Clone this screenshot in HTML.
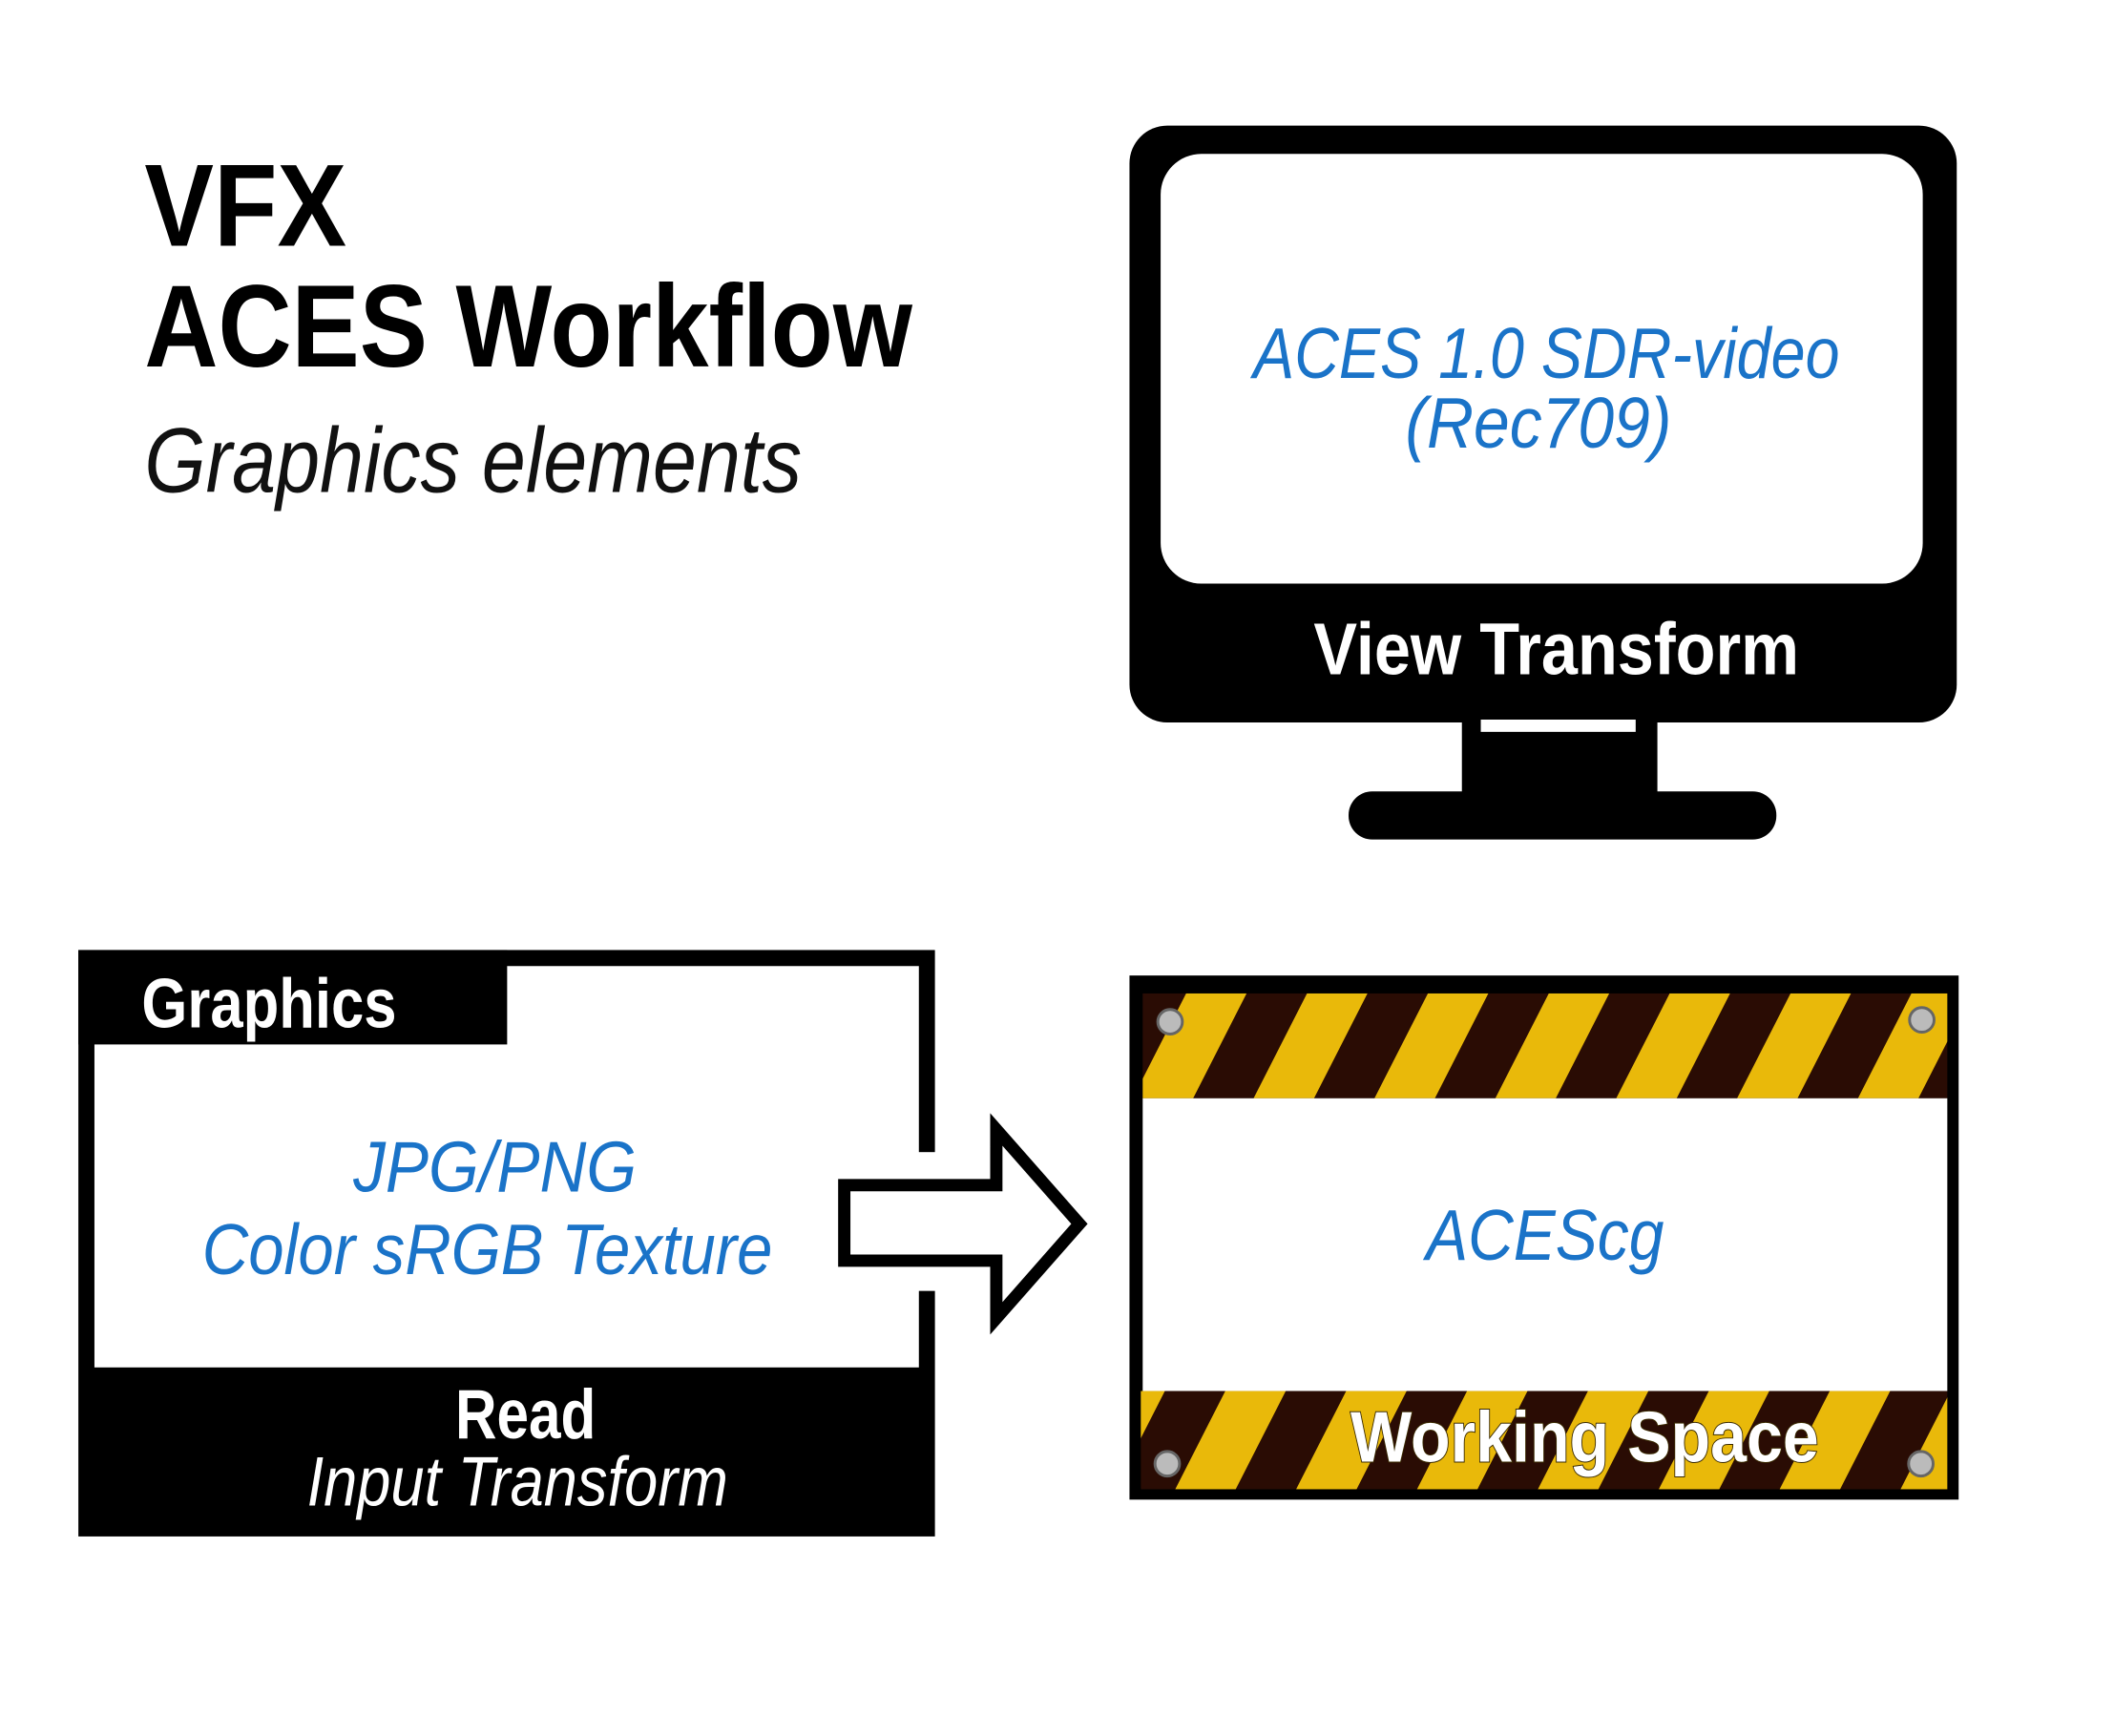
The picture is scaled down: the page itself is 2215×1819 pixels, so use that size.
<!DOCTYPE html>
<html><head><meta charset="utf-8"><style>html,body{margin:0;padding:0;background:#fff;width:2215px;height:1819px;overflow:hidden}</style></head>
<body>
<svg width="2215" height="1819" viewBox="0 0 2215 1819" xmlns="http://www.w3.org/2000/svg" font-family="Liberation Sans, sans-serif">
<defs>
<pattern id="st" patternUnits="userSpaceOnUse" width="128" height="256" patternTransform="skewX(-27)">
<rect width="128" height="256" fill="#2a0c04"/>
<rect x="0" width="64" height="256" fill="#e9b90a"/>
</pattern>
</defs>
<rect width="2215" height="1819" fill="#fff"/>
<g transform="scale(0.9895)">
<text x="153" y="260" font-size="124" font-weight="bold" textLength="214" lengthAdjust="spacingAndGlyphs">VFX</text>
<text x="153" y="388" font-size="124" font-weight="bold" textLength="813" lengthAdjust="spacingAndGlyphs">ACES Workflow</text>
<text x="153" y="521" font-size="98" font-style="italic" textLength="696" lengthAdjust="spacingAndGlyphs" fill="#111">Graphics elements</text>
<rect x="1196" y="133" width="876" height="632" rx="40" fill="#000"/>
<rect x="1229" y="163" width="807" height="455" rx="43" fill="#fff"/>
<rect x="1548" y="760" width="207" height="82" fill="#000"/>
<rect x="1568" y="762" width="164" height="13" fill="#fff"/>
<rect x="1428" y="838" width="453" height="51" rx="25" fill="#000"/>
<text x="1327" y="400" font-size="76" font-style="italic" fill="#1a73c8" textLength="621" lengthAdjust="spacingAndGlyphs">ACES 1.0 SDR-video</text>
<text x="1488" y="474" font-size="76" font-style="italic" fill="#1a73c8" textLength="282" lengthAdjust="spacingAndGlyphs">(Rec709)</text>
<text x="1391" y="714" font-size="78" font-weight="bold" fill="#fff" textLength="514" lengthAdjust="spacingAndGlyphs">View Transform</text>
<rect x="83" y="1006" width="907" height="621" fill="#000"/>
<rect x="100" y="1023" width="873" height="425" fill="#fff"/>
<rect x="83" y="1006" width="454" height="100" fill="#000"/>
<rect x="970" y="1220" width="22" height="147" fill="#fff"/>
<text x="150" y="1088" font-size="74" font-weight="bold" fill="#fff" textLength="270" lengthAdjust="spacingAndGlyphs">Graphics</text>
<text x="374" y="1262" font-size="76" font-style="italic" fill="#1a73c8" textLength="300" lengthAdjust="spacingAndGlyphs">JPG/PNG</text>
<text x="214" y="1349" font-size="76" font-style="italic" fill="#1a73c8" textLength="604" lengthAdjust="spacingAndGlyphs">Color sRGB Texture</text>
<text x="482" y="1523" font-size="74" font-weight="bold" fill="#fff" textLength="149" lengthAdjust="spacingAndGlyphs">Read</text>
<text x="325" y="1594" font-size="74" font-style="italic" fill="#fff" textLength="446" lengthAdjust="spacingAndGlyphs">Input Transform</text>
<polygon points="894,1255 1055,1255 1055,1196 1143,1296 1055,1396 1055,1335 894,1335" fill="#fff" stroke="#000" stroke-width="13"/>
<rect x="1196" y="1033" width="878" height="555" fill="#000"/>
<rect x="1210" y="1052" width="852" height="111" fill="url(#st)"/>
<rect x="1210" y="1163" width="852" height="310" fill="#fff"/>
<rect x="1208" y="1473" width="854" height="104" fill="url(#st)"/>
<g fill="#bbb" stroke="#666" stroke-width="3">
<circle cx="1239" cy="1082" r="13"/><circle cx="2035" cy="1080" r="13"/>
<circle cx="1236" cy="1550" r="13"/><circle cx="2034" cy="1550" r="13"/>
</g>
<text x="1510" y="1334" font-size="76" font-style="italic" fill="#1a73c8" textLength="252" lengthAdjust="spacingAndGlyphs">ACEScg</text>
<text x="1430" y="1548" font-size="76" font-weight="bold" fill="#fff" stroke="#3a2a00" stroke-width="2" paint-order="stroke" textLength="496" lengthAdjust="spacingAndGlyphs">Working Space</text>
</g>
</svg>
</body></html>
